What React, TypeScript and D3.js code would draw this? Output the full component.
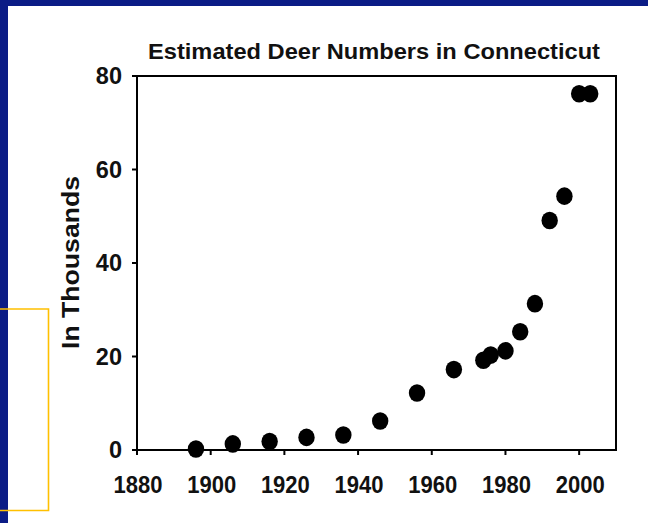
import React from "react";
import * as d3 from "d3";

const years = [1896, 1906, 1916, 1926, 1936, 1946, 1956, 1966, 1974, 1976, 1980, 1984, 1988, 1992, 1996, 2000, 2003];
const deerThousands = [0.2, 1.3, 1.8, 2.7, 3.2, 6.2, 12.2, 17.2, 19.2, 20.3, 21.2, 25.3, 31.3, 49.1, 54.3, 76.2, 76.2];
const xTicks = [1880, 1900, 1920, 1940, 1960, 1980, 2000];
const yTicks = [0, 20, 40, 60, 80];
const titleText = "Estimated Deer Numbers in Connecticut";
const yLabelText = "In Thousands";

const W = 648;
const H = 523;
const left = 137;
const right = 616;
const top = 76;
const bottom = 450;

export default function App() {
  const x = d3.scaleLinear().domain([1880, 2010]).range([left, right]);
  const y = d3.scaleLinear().domain([0, 80]).range([bottom, top]);
  const font = "'Liberation Sans', Arial, sans-serif";
  return (
    <div style={{ position: "absolute", left: 0, top: 0, width: W, height: H }}>
      <svg width={W} height={H} style={{ display: "block" }}>
        <rect x={0} y={0} width={W} height={H} fill="#ffffff" />
        <path d="M0,309H48.5V510.5H0" fill="none" stroke="#FFC000" strokeWidth={1.6} />
        <rect x={0} y={0} width={W} height={6} fill="#0B1C86" />
        <rect x={0} y={0} width={8} height={H} fill="#0B1C86" />
        <path d="M0,309H8M0,510.5H8" fill="none" stroke="#FFC000" strokeWidth={1.6} />
        <text x={374} y={59} textAnchor="middle" fontFamily={font} fontWeight="bold" fontSize={22.5}
          textLength={452} lengthAdjust="spacingAndGlyphs" fill="#111">{titleText}</text>
        {/* frame */}
        <path d={`M${left},${top}H${right}V${bottom}H${left}Z`} fill="none" stroke="#000" strokeWidth={2} />
        {xTicks.map((t) => (
          <g key={t}>
            <line x1={x(t)} x2={x(t)} y1={bottom} y2={bottom + 5} stroke="#000" strokeWidth={2} />
            <text x={x(t) + 1} y={493} textAnchor="middle" fontFamily={font} fontWeight="bold" fontSize={23}
              textLength={49} lengthAdjust="spacingAndGlyphs" fill="#111">{t}</text>
          </g>
        ))}
        {yTicks.map((t) => (
          <g key={t}>
            <line x1={left - 5} x2={left} y1={y(t)} y2={y(t)} stroke="#000" strokeWidth={2} />
            <text x={122} y={y(t)} dy="0.36em" textAnchor="end" fontFamily={font} fontWeight="bold" fontSize={23.5} fill="#111">{t}</text>
          </g>
        ))}
        <text transform={`translate(79,349) rotate(-90)`} textAnchor="start" fontFamily={font} fontWeight="bold" fontSize={24}
          textLength={173} lengthAdjust="spacingAndGlyphs" fill="#111">{yLabelText}</text>
        {years.map((yr, i) => (
          <ellipse key={yr} cx={x(yr)} cy={y(deerThousands[i])} rx={8.2} ry={8.8} fill="#000" />
        ))}
      </svg>
    </div>
  );
}
